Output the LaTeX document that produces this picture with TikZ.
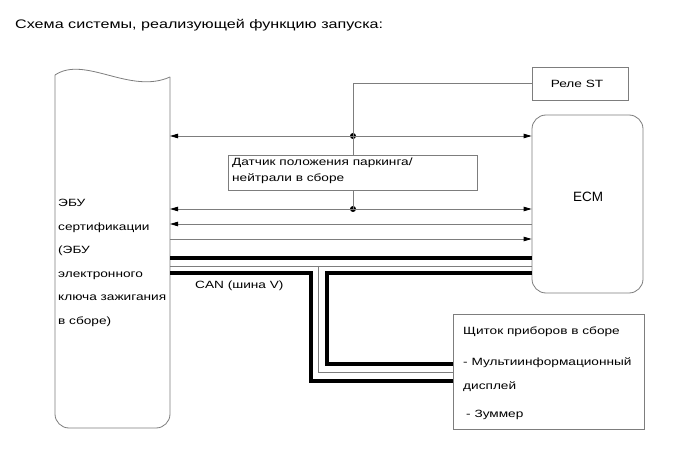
\documentclass[tikz,border=0pt]{standalone}
\usepackage{fontspec}
\setmainfont[FakeStretch=1.3]{Liberation Sans}
\newfontfamily\plainsans{Liberation Sans}
\usetikzlibrary{arrows.meta}
\definecolor{lc}{RGB}{125,125,125}
\tikzset{
  box/.style={draw=lc, line width=0.8pt, fill=white, inner sep=0pt},
  wire/.style={draw=lc, line width=0.8pt},
  bus/.style={draw=black, line width=3.3pt},
  tip/.style={-{Triangle[length=8pt,width=4.5pt,color=black]}},
  tips/.style={{Triangle[length=8pt,width=4.5pt,color=black]}-{Triangle[length=8pt,width=4.5pt,color=black]}},
  txt/.style={font=\fontsize{10.5}{12}\selectfont, inner sep=0pt},
  dot/.style={circle, fill=black, inner sep=0pt, minimum size=6pt}
}
\begin{document}
\begin{tikzpicture}[x=1pt,y=-1pt]
\useasboundingbox (0,0) rectangle (691,465);
% title
\node[anchor=west, inner sep=0pt, font=\fontsize{12.4}{14}\selectfont] (title) at (15,25) {Схема системы, реализующей функцию запуска:};
% left box (ЭБУ)
\coordinate (ebutl) at (55,75);
\coordinate (ebutr) at (170,77);
\draw[wire, rounded corners=14pt] (ebutr) -- (170,428) -- (55,428) -- (ebutl);
\draw[wire] (ebutl) .. controls (85,55) and (130,95) .. (ebutr);
\node[txt, anchor=north west, align=left, font=\fontsize{10.5}{23.5}\selectfont] (ebu) at (58,199) {ЭБУ\\сертификации\\(ЭБУ\\электронного\\ключа зажигания\\в сборе)};
% relay
\node[box, minimum width=96pt, minimum height=33pt] (relay) at (580,83.5) {};
\node[txt] (relaytxt) at (577,84) {Реле ST};
% ECM
\node[box, rounded corners=14pt, minimum width=111pt, minimum height=178pt] (ecm) at (587.5,204) {};
\node[inner sep=0pt, font=\plainsans\fontsize{13.5}{15}\selectfont] (ecmtxt) at (588,197) {ECM};
% coordinates on the left box edge
\coordinate (l1) at (170,136);
\coordinate (l2) at (170,209);
\coordinate (l3) at (170,224);
\coordinate (l4) at (170,239);
\coordinate (b1) at (170,258);
\coordinate (b2) at (170,266);
\coordinate (b3) at (170,273);
% junctions
\coordinate (j0) at (353,83.5);
\node[dot] (d1) at (353,136) {};
\node[dot] (d2) at (353,209) {};
% relay feed
\draw[wire] (relay.west) -- (j0) -- (d2.center);
% signal lines
\draw[wire, tips] (l1) -- (ecm.west |- l1);
\draw[wire, tips] (l2) -- (ecm.west |- l2);
\draw[wire, tip] (ecm.west |- l3) -- (l3);
\draw[wire, tip] (l4) -- (ecm.west |- l4);
% sensor box
\node[box, anchor=north west, minimum width=249pt, minimum height=35pt] (sensor) at (228,155) {};
\node[txt, anchor=north west, align=left, font=\fontsize{10.5}{16}\selectfont] (sensortxt) at (232,157.5) {Датчик положения паркинга/\\нейтрали в сборе};
% instrument cluster
\node[box, anchor=north west, minimum width=191pt, minimum height=115pt] (meter) at (453,314) {};
\node[txt, anchor=west] (m1) at (463,332) {Щиток приборов в сборе};
\node[txt, anchor=west] (m2) at (463,363) {- Мультиинформационный};
\node[txt, anchor=west] (m3) at (463,387) {дисплей};
\node[txt, anchor=west] (m4) at (466,415) {- Зуммер};
% CAN bus
\draw[bus] (b1) -- (ecm.west |- b1);
\draw[wire] (b2) -- (ecm.west |- b2);
\draw[wire] (318,266) -- (318,372) -- (meter.west |- 0,372);
\draw[bus] (b3) -- (311,273) -- (311,381) -- (meter.west |- 0,381);
\draw[bus] (ecm.west |- b3) -- (327,273) -- (327,364) -- (meter.west |- 0,364);
\node[txt, anchor=west] (can) at (195,286) {CAN (шина V)};
\end{tikzpicture}
\end{document}
